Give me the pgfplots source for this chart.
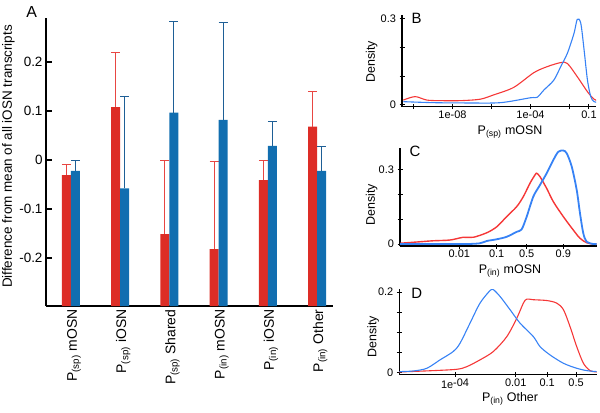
\documentclass[border=0pt]{standalone}
\usepackage{pgfplots}
\pgfplotsset{compat=1.18}
\usepackage{pgfplotstable}
\usepackage{fontspec}
\setmainfont{Liberation Sans}
\definecolor{barred}{RGB}{221,45,38}
\definecolor{barblue}{RGB}{17,110,176}
\definecolor{errred}{RGB}{232,70,66}
\definecolor{errblue}{RGB}{30,95,150}
\definecolor{linered}{RGB}{245,55,55}
\definecolor{lineblue}{RGB}{55,130,245}

% Panel A: difference from mean (bars) and upward error
\pgfplotstableread{
cat red rerr blue berr
0 -0.031 0.021 -0.022 0.022
1 0.108 0.111 -0.058 0.187
2 -0.151 0.151 0.097 0.185
3 -0.182 0.180 0.082 0.198
4 -0.041 0.041 0.029 0.049
5 0.068 0.072 -0.022 0.050
}\barsA

% Panel B: x = log10 P(sp) mOSN
\pgfplotstableread{
x d
-10.52 0.017
-9.92 0.029
-9.32 0.017
-8.64 0.015
-7.60 0.015
-6.58 0.020
-5.89 0.035
-4.86 0.061
-3.83 0.112
-3.14 0.133
-2.45 0.147
-2.11 0.144
-1.60 0.098
-1.08 0.046
-0.74 0.020
-0.48 0.012
}\Bred
\pgfplotstableread{
x d
-10.52 0.0115
-8.98 0.008
-7.26 0.007
-5.54 0.008
-4.00 0.025
-3.66 0.0265
-3.31 0.052
-2.80 0.0865
-2.45 0.133
-2.11 0.179
-1.77 0.248
-1.60 0.297
-1.42 0.283
-1.25 0.190
-1.08 0.087
-0.91 0.029
-0.74 0.0115
-0.48 0.008
}\Bblue

% Panel C: x = axis position of P(in) mOSN
\pgfplotstableread{
x d
0 0.003
2.0 0.009
3.33 0.013
5.0 0.016
6.33 0.027
7.33 0.027
8.67 0.045
9.67 0.069
10.67 0.110
11.67 0.150
12.33 0.190
13.0 0.244
13.5 0.277
13.67 0.284
14.0 0.270
14.67 0.223
15.33 0.170
16.33 0.110
17.33 0.056
18.0 0.023
18.67 0.005
19.33 0.0
19.67 0.0
}\Cred
\pgfplotstableread{
x d
0 0.0
3.33 0.0
6.67 0.0
8.0 0.003
8.67 0.012
9.67 0.019
10.67 0.029
11.67 0.049
12.17 0.059
12.67 0.110
13.33 0.190
14.0 0.237
14.67 0.284
15.33 0.337
15.83 0.370
16.33 0.375
16.67 0.364
17.17 0.311
17.67 0.217
18.0 0.123
18.33 0.043
18.67 0.009
19.33 0.0
19.67 0.0
}\Cblue

% Panel D: x = logit P(in) Other
\pgfplotstableread{
x d
-13.45 0.0008
-10.86 0.0042
-9.08 0.0075
-8.32 0.014
-7.31 0.031
-6.29 0.052
-5.27 0.089
-4.51 0.135
-4.01 0.1725
-3.75 0.1825
-3.25 0.181
-2.23 0.179
-1.47 0.1725
-0.96 0.156
-0.46 0.114
0.05 0.064
0.56 0.0225
1.07 0.0042
1.57 0.0008
}\Dred
\pgfplotstableread{
x d
-13.45 0.0017
-12.38 0.0033
-11.36 0.010
-10.35 0.031
-9.34 0.052
-8.83 0.0725
-8.07 0.1225
-7.31 0.1725
-6.54 0.204
-6.29 0.206
-5.78 0.189
-5.02 0.156
-4.26 0.1225
-3.25 0.089
-2.74 0.064
-1.98 0.0433
-0.96 0.0225
0.05 0.010
0.81 0.0042
1.57 0.0017
}\Dblue

\pgfplotsset{
  densax/.style={
    scale only axis,
    anchor=south west,
    axis x line*=bottom, axis y line*=left,
    axis line style={line width=1.2bp, black},
    tick align=center, major tick length=5bp,
    tick style={line width=1bp, black},
    tick label style={font=\fontsize{11}{11}\selectfont},
    x tick label style={inner sep=1.5bp},
    label style={font=\fontsize{12.5}{13}\selectfont},
    ylabel=Density,
  },
}

\begin{document}
\begin{tikzpicture}
\useasboundingbox (0,0) rectangle (600bp,-413bp);

% ---------------- Panel A ----------------
\begin{axis}[
  at={(46bp,-306bp)}, anchor=south west, scale only axis,
  width=287bp, height=288bp,
  xmin=-0.507, xmax=5.32, ymin=0, ymax=0.588,
  axis x line*=bottom, axis y line*=left,
  axis line style={line width=1.7bp, black},
  ybar=0pt, bar width=9bp,
  y filter/.expression={y+0.298},
  xtick={0,1,2,3,4,5},
  xticklabels={P\textsubscript{(sp)} mOSN, P\textsubscript{(sp)} iOSN, P\textsubscript{(sp)} Shared, P\textsubscript{(in)} mOSN, P\textsubscript{(in)} iOSN, P\textsubscript{(in)} Other},
  x tick label style={rotate=90, anchor=east, font=\fontsize{14}{14}\selectfont, yshift=-3bp},
  xtick style={draw=none},
  ytick={0.098,0.198,0.298,0.398,0.498},
  yticklabels={-0.2,-0.1,0,0.1,0.2},
  y tick label style={font=\fontsize{13.5}{14}\selectfont},
  ytick style={line width=1.3bp, black},
  tick align=inside, major tick length=6bp,
  ylabel={Difference from mean of all iOSN transcripts},
  ylabel style={font=\fontsize{13.5}{14}\selectfont, at={(axis description cs:-0.131,0.519)}, anchor=center},
]
\addplot[fill=barred, draw=none,
  error bars/.cd, y dir=plus, y explicit,
  error bar style={line width=1bp, errred},
  error mark options={rotate=90, mark size=4.5bp, line width=1bp, errred}]
  table[x=cat, y=red, y error=rerr]{\barsA};
\addplot[fill=barblue, draw=none,
  error bars/.cd, y dir=plus, y explicit,
  error bar style={line width=1bp, errblue},
  error mark options={rotate=90, mark size=4.5bp, line width=1bp, errblue}]
  table[x=cat, y=blue, y error=berr]{\barsA};
\end{axis}

% ---------------- Panel B ----------------
\begin{axis}[densax,
  at={(402bp,-106.7bp)}, width=194bp, height=91.7bp,
  xmin=-10.59, xmax=-0.64, ymin=-0.006, ymax=0.312,
  xtick={-10,-8,-6,-4,-2,-1}, xticklabels={,1e-08,,1e-04,,0.1},
  ytick={0,0.1,0.2,0.3}, yticklabels={0,,,0.3},
  xlabel={P\textsubscript{(sp)} mOSN},
  xlabel style={at={(axis description cs:0.557,-0.275)}, anchor=center},
  ylabel style={at={(axis description cs:-0.156,0.49)}, anchor=center},
]
\addplot[linered, line width=1.1bp, smooth] table[x=x, y=d]{\Bred};
\addplot[lineblue, line width=1.1bp, smooth] table[x=x, y=d]{\Bblue};
\end{axis}

% ---------------- Panel C ----------------
\begin{axis}[densax,
  at={(400bp,-246bp)}, width=196.7bp, height=97.7bp,
  xmin=0, xmax=19.67, ymin=-0.008, ymax=0.384,
  xtick={5.93,9.67,12.67,16.33}, xticklabels={0.01,0.1,0.5,0.9},
  ytick={0,0.1,0.2,0.3}, yticklabels={0,,,0.3},
  xlabel={P\textsubscript{(in)} mOSN},
  xlabel style={at={(axis description cs:0.559,-0.255)}, anchor=center},
  ylabel style={at={(axis description cs:-0.144,0.42)}, anchor=center},
]
\addplot[linered, line width=1.4bp, smooth] table[x=x, y=d]{\Cred};
\addplot[lineblue, line width=1.8bp, smooth] table[x=x, y=d]{\Cblue};
\end{axis}

% ---------------- Panel D ----------------
\begin{axis}[densax,
  at={(399.3bp,-374.3bp)}, width=197.4bp, height=85bp,
  xmin=-13.45, xmax=1.57, ymin=-0.005, ymax=0.207,
  xtick={-9.21,-4.595,-2.197,0}, xticklabels={1e\raisebox{2.5bp}{-04},0.01,0.1,0.5},
  ytick={0,0.05,0.1,0.15,0.2}, yticklabels={0,,,,0.2},
  xlabel={P\textsubscript{(in)} Other},
  xlabel style={at={(axis description cs:0.561,-0.29)}, anchor=center},
  ylabel style={at={(axis description cs:-0.132,0.442)}, anchor=center},
]
\addplot[linered, line width=1.1bp, smooth] table[x=x, y=d]{\Dred};
\addplot[lineblue, line width=1.1bp, smooth] table[x=x, y=d]{\Dblue};
\end{axis}

% panel letters
\node[font=\fontsize{16}{16}\selectfont] at (31.7bp,-11.7bp) {A};
\node[font=\fontsize{15}{15}\selectfont] at (416.7bp,-18.3bp) {B};
\node[font=\fontsize{15}{15}\selectfont] at (415bp,-151.7bp) {C};
\node[font=\fontsize{15}{15}\selectfont] at (416.7bp,-293.3bp) {D};
\end{tikzpicture}
\end{document}
